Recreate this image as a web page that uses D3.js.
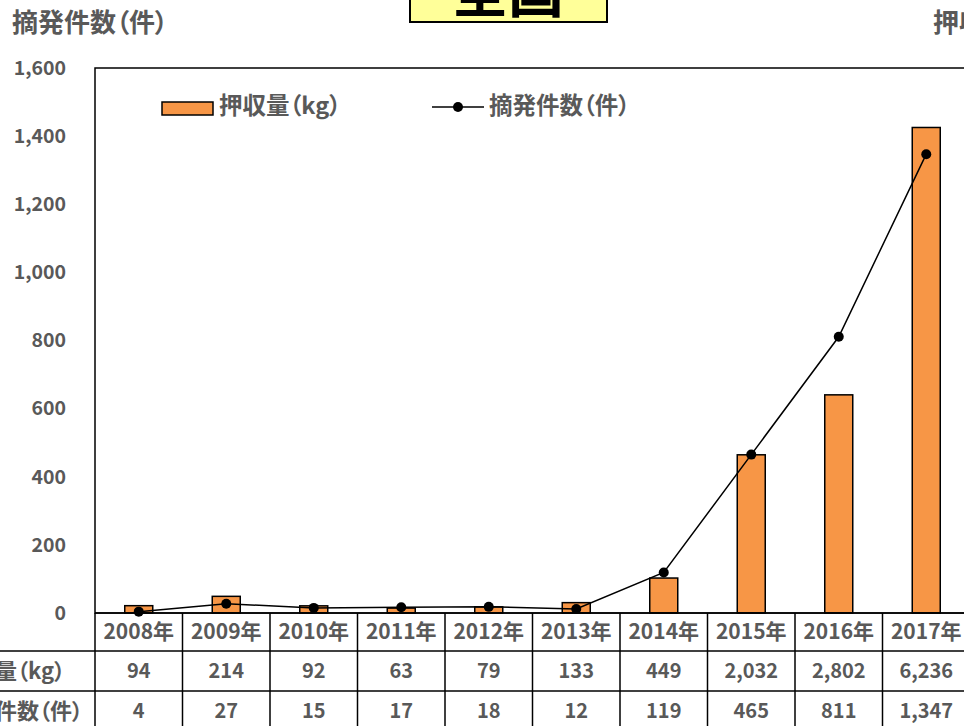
<!DOCTYPE html>
<html>
<head>
<meta charset="utf-8">
<script src="https://cdn.jsdelivr.net/npm/d3@7/dist/d3.min.js"></script>
<style>
  html, body { margin: 0; padding: 0; background: #fff; overflow: hidden; }
  text { font-family: "Noto Sans CJK JP", "Noto Sans", sans-serif; font-weight: bold; fill: #595959; font-feature-settings: "palt"; }
</style>
</head>
<body>
<div id="grafico"></div>
<script>
// dados -----------------------------------------------------------------
const anos = ["2008年","2009年","2010年","2011年","2012年","2013年","2014年","2015年","2016年","2017年"];
const apreensao_kg = [94, 214, 92, 63, 79, 133, 449, 2032, 2802, 6236]; // 押収量(kg)
const casos = [4, 27, 15, 17, 18, 12, 119, 465, 811, 1347];            // 摘発件数(件)
const ticks_esq = [0, 200, 400, 600, 800, 1000, 1200, 1400, 1600];

// medidas ----------------------------------------------------------------
const largura = 964, altura = 726;
const margem = { superior: 68, esquerda: 95, direita: 970, inferior: 613 };
const linhas_tabela = [613, 651, 691, 731];
const fmt = d3.format(",");

const svg = d3.select("#grafico").append("svg")
    .attr("width", largura)
    .attr("height", altura)
    .attr("viewBox", [0, 0, largura, altura]);

// escalas
const escala_x = d3.scaleBand(anos, [margem.esquerda, margem.direita]).padding(0);
const escala_y = d3.scaleLinear([0, 1600], [margem.inferior, margem.superior]);
const escala_y2 = d3.scaleLinear([0, 7000], [margem.inferior, margem.superior]);
const largura_barra = escala_x.bandwidth() * 0.32;

// títulos superiores
svg.append("text")
    .attr("x", 12).attr("y", 23)
    .attr("dy", "0.35em")
    .attr("font-size", 26)
    .text("摘発件数（件）");

svg.append("text")
    .attr("x", 933).attr("y", 23)
    .attr("dy", "0.35em")
    .attr("font-size", 26)
    .text("押収量（kg）");

// caixa amarela "全国"
svg.append("rect")
    .attr("x", 410).attr("y", -40)
    .attr("width", 197).attr("height", 62)
    .attr("fill", "#FFFF99")
    .attr("stroke", "#000")
    .attr("stroke-width", 2);
svg.append("text")
    .attr("x", 508).attr("y", 12)
    .attr("text-anchor", "middle")
    .attr("font-size", 56)
    .style("fill", "#000")
    .text("全国");

// eixo y esquerdo (rótulos)
svg.append("g")
    .attr("class", "eixo_y")
  .selectAll("text")
  .data(ticks_esq)
  .join("text")
    .attr("x", 66)
    .attr("y", d => escala_y(d))
    .attr("dy", "0.35em")
    .attr("text-anchor", "end")
    .attr("font-size", 19.5)
    .text(d => fmt(d));

// barras (eixo direito)
svg.append("g")
    .attr("class", "barras")
  .selectAll("rect")
  .data(anos)
  .join("rect")
    .attr("x", (d, i) => escala_x(d) + (escala_x.bandwidth() - largura_barra) / 2)
    .attr("y", (d, i) => escala_y2(apreensao_kg[i]))
    .attr("width", largura_barra)
    .attr("height", (d, i) => escala_y2(0) - escala_y2(apreensao_kg[i]))
    .attr("fill", "#F79646")
    .attr("stroke", "#000")
    .attr("stroke-width", 1.5);

// linha (eixo esquerdo)
const linha = d3.line()
    .x((d, i) => escala_x(anos[i]) + escala_x.bandwidth() / 2)
    .y(d => escala_y(d));

svg.append("path")
    .datum(casos)
    .attr("d", linha)
    .attr("fill", "none")
    .attr("stroke", "#000")
    .attr("stroke-width", 1.5);

svg.append("g")
    .attr("class", "pontos")
  .selectAll("circle")
  .data(casos)
  .join("circle")
    .attr("cx", (d, i) => escala_x(anos[i]) + escala_x.bandwidth() / 2)
    .attr("cy", d => escala_y(d))
    .attr("r", 5)
    .attr("fill", "#000");

// borda da área do gráfico
svg.append("rect")
    .attr("x", margem.esquerda).attr("y", margem.superior)
    .attr("width", margem.direita - margem.esquerda)
    .attr("height", margem.inferior - margem.superior)
    .attr("fill", "none")
    .attr("stroke", "#000")
    .attr("stroke-width", 1.5);

// legenda
const legenda = svg.append("g").attr("class", "legenda");
legenda.append("rect")
    .attr("x", 162).attr("y", 102)
    .attr("width", 51).attr("height", 13)
    .attr("fill", "#F79646")
    .attr("stroke", "#000")
    .attr("stroke-width", 1.5);
legenda.append("text")
    .attr("x", 219).attr("y", 106)
    .attr("dy", "0.35em")
    .attr("font-size", 23.5)
    .text("押収量（kg）");
legenda.append("line")
    .attr("x1", 432).attr("x2", 484)
    .attr("y1", 107).attr("y2", 107)
    .attr("stroke", "#000")
    .attr("stroke-width", 1.5);
legenda.append("circle")
    .attr("cx", 458).attr("cy", 107)
    .attr("r", 5).attr("fill", "#000");
legenda.append("text")
    .attr("x", 489).attr("y", 106)
    .attr("dy", "0.35em")
    .attr("font-size", 23.5)
    .text("摘発件数（件）");

// tabela de dados
const tabela = svg.append("g").attr("class", "tabela");
// linhas horizontais
tabela.selectAll("line.h")
  .data(linhas_tabela)
  .join("line")
    .attr("class", "h")
    .attr("x1", (d, i) => i == 0 ? margem.esquerda : -10)
    .attr("x2", margem.direita)
    .attr("y1", d => d).attr("y2", d => d)
    .attr("stroke", "#000")
    .attr("stroke-width", 1.5);
// linhas verticais
tabela.selectAll("line.v")
  .data(anos.concat(["fim"]))
  .join("line")
    .attr("class", "v")
    .attr("x1", (d, i) => margem.esquerda + i * escala_x.bandwidth())
    .attr("x2", (d, i) => margem.esquerda + i * escala_x.bandwidth())
    .attr("y1", margem.inferior)
    .attr("y2", 731)
    .attr("stroke", "#000")
    .attr("stroke-width", 1.5);

const centro = d => escala_x(d) + escala_x.bandwidth() / 2;
const meio = i => (linhas_tabela[i] + linhas_tabela[i + 1]) / 2;

tabela.append("g").selectAll("text")
  .data(anos)
  .join("text")
    .attr("x", centro)
    .attr("y", meio(0))
    .attr("dy", "0.35em")
    .attr("text-anchor", "middle")
    .attr("font-size", 21)
    .text(d => d);

tabela.append("g").selectAll("text")
  .data(apreensao_kg)
  .join("text")
    .attr("x", (d, i) => centro(anos[i]))
    .attr("y", meio(1))
    .attr("dy", "0.35em")
    .attr("text-anchor", "middle")
    .attr("font-size", 20)
    .text(d => fmt(d));

tabela.append("g").selectAll("text")
  .data(casos)
  .join("text")
    .attr("x", (d, i) => centro(anos[i]))
    .attr("y", meio(2))
    .attr("dy", "0.35em")
    .attr("text-anchor", "middle")
    .attr("font-size", 20)
    .text(d => fmt(d));

// cabeçalhos das linhas (cortados à esquerda)
tabela.append("text")
    .attr("x", -49).attr("y", meio(1))
    .attr("dy", "0.35em")
    .attr("font-size", 22)
    .text("押収量（kg）");
tabela.append("text")
    .attr("x", -49).attr("y", meio(2))
    .attr("dy", "0.35em")
    .attr("font-size", 22)
    .text("摘発件数（件）");
</script>
</body>
</html>
